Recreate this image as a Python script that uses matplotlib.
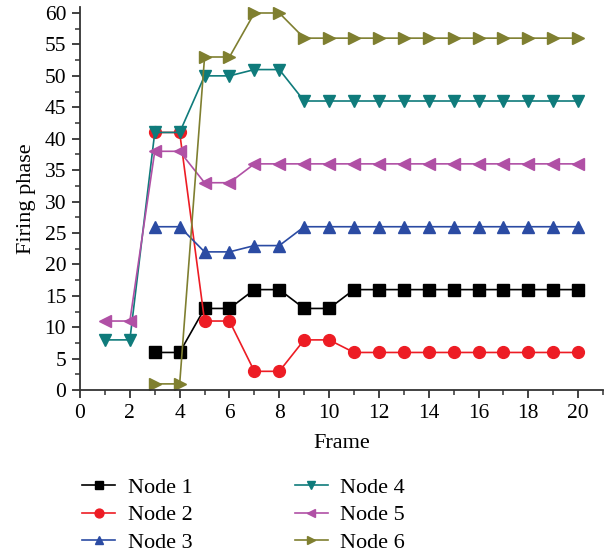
import numpy as np
import matplotlib
matplotlib.use('Agg')
import matplotlib.pyplot as plt
from matplotlib.ticker import MultipleLocator

plt.rcParams['font.family'] = ['Liberation Serif', 'DejaVu Serif']

frames_a = list(range(3, 21))
frames_b = list(range(1, 21))

node1 = [6, 6, 13, 13, 16, 16, 13, 13, 16, 16, 16, 16, 16, 16, 16, 16, 16, 16]
node2 = [41, 41, 11, 11, 3, 3, 8, 8, 6, 6, 6, 6, 6, 6, 6, 6, 6, 6]
node3 = [26, 26, 22, 22, 23, 23, 26, 26, 26, 26, 26, 26, 26, 26, 26, 26, 26, 26]
node4 = [8, 8, 41, 41, 50, 50, 51, 51, 46, 46, 46, 46, 46, 46, 46, 46, 46, 46, 46, 46]
node5 = [11, 11, 38, 38, 33, 33, 36, 36, 36, 36, 36, 36, 36, 36, 36, 36, 36, 36, 36, 36]
node6 = [1, 1, 53, 53, 60, 60, 56, 56, 56, 56, 56, 56, 56, 56, 56, 56, 56, 56]

series = [
    ('Node 1', frames_a, node1, '#000000', 's'),
    ('Node 2', frames_a, node2, '#ED1C24', 'o'),
    ('Node 3', frames_a, node3, '#2B4BA3', '^'),
    ('Node 4', frames_b, node4, '#0F7B7B', 'v'),
    ('Node 5', frames_b, node5, '#B050A5', '<'),
    ('Node 6', frames_a, node6, '#7F7F30', '>'),
]

fig = plt.figure(figsize=(6.11, 5.59), dpi=100)
ax = fig.add_axes([0.131, 0.302, 0.856, 0.686])

for name, x, y, c, m in series:
    ax.plot(x, y, color=c, marker=m, markersize=8.5, linewidth=1.2, label=name)

ax.set_xlim(0, 21)
ax.set_ylim(0, 61)
ax.xaxis.set_major_locator(MultipleLocator(2))
ax.xaxis.set_minor_locator(MultipleLocator(1))
ax.yaxis.set_major_locator(MultipleLocator(5))
ax.yaxis.set_minor_locator(MultipleLocator(2.5))
ax.set_xticks(np.arange(0, 21, 2))
ax.spines['top'].set_visible(False)
ax.spines['right'].set_visible(False)
for s in ('left', 'bottom'):
    ax.spines[s].set_linewidth(1.3)
    ax.spines[s].set_color('#333333')
ax.tick_params(which='major', direction='out', length=6, width=1.3, labelsize=15.5,
               color='#333333', pad=4)
ax.tick_params(which='minor', direction='out', length=3.5, width=1.1, color='#333333')

ax.set_xlabel('Frame', fontsize=16, labelpad=8)
ax.set_ylabel('Firing phase', fontsize=16, labelpad=6)

ax.legend(loc='upper left', bbox_to_anchor=(-0.013, -0.205), ncol=2, frameon=False,
          fontsize=16, handlelength=1.5, handletextpad=0.55, columnspacing=4.6,
          labelspacing=0.3, markerscale=0.75, borderaxespad=0)

fig.savefig('out.png', dpi=100)
